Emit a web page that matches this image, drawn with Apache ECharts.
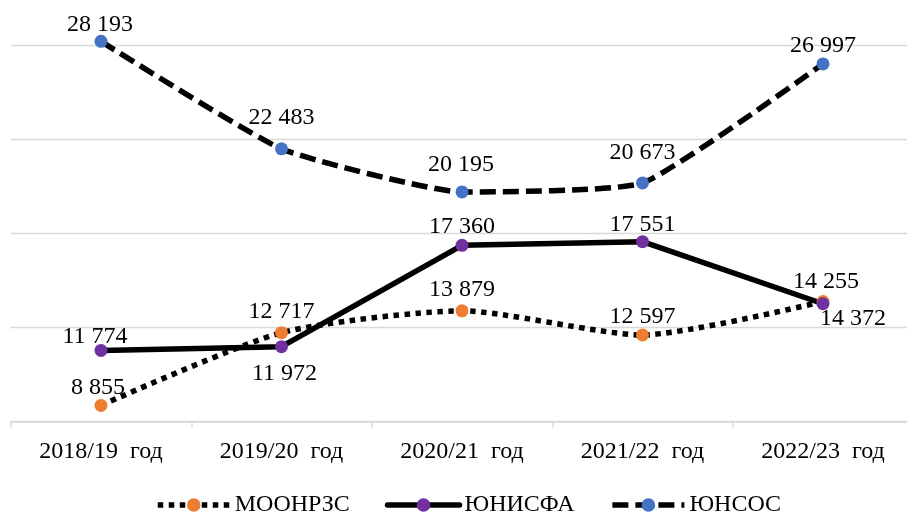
<!DOCTYPE html>
<html>
<head>
<meta charset="utf-8">
<script src="https://cdn.jsdelivr.net/npm/echarts@6/dist/echarts.min.js"></script>
<style>
html,body{margin:0;padding:0;background:#fff;}
#c{width:907px;height:515px;}
</style>
</head>
<body>
<div id="c"></div>
<script>
// ---- data ----
const categories = ['2018/19  год', '2019/20  год', '2020/21  год', '2021/22  год', '2022/23  год'];
const seriesNames = ['МООНРЗС', 'ЮНИСФА', 'ЮНСОС'];
const moonrzs = [8855, 12717, 13879, 12597, 14372];
const unisfa  = [11774, 11972, 17360, 17551, 14255];
const unsos   = [28193, 22483, 20195, 20673, 26997];

// ---- label placement (style only) ----
const offMO = [[-3,-18],[0,-21],[0,-21],[0,-18],[30,17]];
const offUN = [[-6,-14],[3,27],[0,-19],[0,-17],[3,-22]];
const offUS = [[-1,-17],[0,-31],[-1,-27],[0,-30],[0,-18]];

const FONT = "'Liberation Serif', 'Times New Roman', serif";
function fmt(v){ return String(v).replace(/\B(?=(\d{3})+(?!\d))/g, ' '); }
function mkData(vals, offs){
  return vals.map((v,i)=>({value:v, label:{offset:offs[i]}}));
}
function mkSeries(name, vals, offs, color, lineType, smooth, cap){
  return {
    name: name, type: 'line', data: mkData(vals, offs),
    smooth: smooth, clip: false,
    symbol: 'circle', symbolSize: 13,
    itemStyle: {color: color, borderWidth: 0},
    lineStyle: {color: '#000', width: 5.5, type: lineType, cap: cap},
    label: {show: true, position: 'inside', formatter: p => fmt(p.value),
            color: '#000', fontFamily: FONT, fontSize: 24,
            align: 'center', verticalAlign: 'middle'},
    emphasis: {disabled: true}
  };
}

const chart = echarts.init(document.getElementById('c'), null, {renderer: 'canvas'});
chart.setOption({
  animation: false,
  backgroundColor: '#fff',
  grid: {left: 10.75, right: -6.25, top: 45, bottom: 93.5, outerBoundsMode: 'none', containLabel: false},
  xAxis: {
    type: 'category', data: categories, boundaryGap: true,
    axisLine: {lineStyle: {color: '#d9d9d9', width: 1.5}},
    axisTick: {show: true, length: 6, lineStyle: {color: '#d9d9d9', width: 1.5}},
    axisLabel: {color: '#000', fontFamily: FONT, fontSize: 24, margin: 18}
  },
  yAxis: {
    type: 'value', min: 8000, max: 28000, interval: 5000,
    axisLine: {show: false}, axisTick: {show: false}, axisLabel: {show: false},
    splitLine: {lineStyle: {color: '#d9d9d9', width: 1.3}}
  },
  legend: {
    data: seriesNames, left: 150, top: 488,
    itemWidth: 72, itemHeight: 17, itemGap: 35,
    lineStyle: {width: 5.5},
    textStyle: {color: '#000', fontFamily: FONT, fontSize: 24}
  },
  series: [
    mkSeries(seriesNames[0], moonrzs, offMO, '#ED7D31', 'dotted', 0.22, 'butt'),
    mkSeries(seriesNames[1], unisfa, offUN, '#7030A0', 'solid', false, 'round'),
    mkSeries(seriesNames[2], unsos, offUS, '#4472C4', [16, 7], 0.15, 'butt')
  ]
});
</script>
</body>
</html>
